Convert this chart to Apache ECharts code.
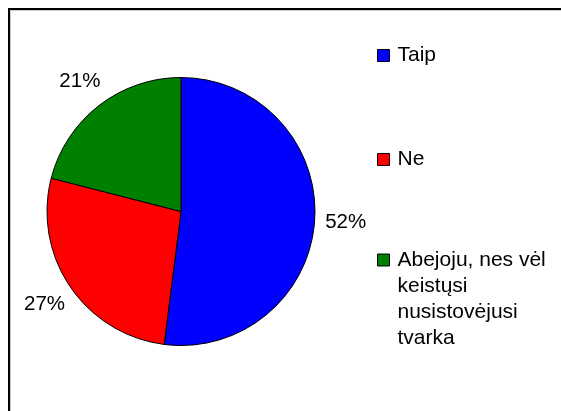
<!DOCTYPE html>
<html>
<head>
<meta charset="utf-8">
<script src="https://cdn.jsdelivr.net/npm/echarts@6/dist/echarts.min.js"></script>
<style>
  html, body { margin: 0; padding: 0; background: #fff; }
  #chart { width: 561px; height: 411px; }
</style>
</head>
<body>
<div id="chart"></div>
<script>
// Survey answers and their shares (percent)
var categories = ['Taip', 'Ne', 'Abejoju, nes vėl\nkeistųsi\nnusistovėjusi\ntvarka'];
var shares = [52, 27, 21];
var colors = ['#0000FF', '#FF0000', '#008000'];

var FONT = '"Liberation Sans", Arial, sans-serif';

var pieData = categories.map(function (name, i) {
  return { name: name, value: shares[i], itemStyle: { color: colors[i] } };
});

// one legend block per answer so each entry sits at its own height;
// multi-line names get empty lines above so the swatch lines up with the first line
function legendBlock(i, top) {
  var lines = categories[i].split('\n').length;
  var pad = new Array(lines).join('\n');
  return {
    data: [categories[i]],
    left: 377,
    top: top,
    padding: 0,
    orient: 'vertical',
    icon: 'rect',
    itemWidth: 12,
    itemHeight: 12,
    selectedMode: false,
    itemStyle: { borderColor: '#000', borderWidth: 1 },
    formatter: function (name) { return pad + name; },
    textStyle: {
      fontFamily: FONT,
      fontSize: 21,
      color: '#000',
      lineHeight: 26,
      padding: [0, 0, 0, 3]
    }
  };
}

var chart = echarts.init(document.getElementById('chart'), null, { renderer: 'canvas' });
chart.setOption({
  animation: false,
  backgroundColor: '#fff',
  graphic: [
    { type: 'rect', silent: true, shape: { x: 9, y: 9, width: 700, height: 600 },
      style: { fill: 'none', stroke: '#000', lineWidth: 2 } },
    { type: 'rect', silent: true, shape: { x: 10.5, y: 10.5, width: 700, height: 600 },
      style: { fill: 'none', stroke: '#c8c8c8', lineWidth: 1 } }
  ],
  legend: [
    legendBlock(0, 42.5),
    legendBlock(1, 146.5),
    legendBlock(2, 169)
  ],
  series: [{
    type: 'pie',
    center: [181, 211.5],
    radius: 134,
    startAngle: 90,
    clockwise: true,
    avoidLabelOverlap: false,
    data: pieData,
    itemStyle: { borderColor: '#000', borderWidth: 1 },
    emphasis: { disabled: true },
    label: {
      show: true,
      position: 'outside',
      formatter: '{d}%',
      fontFamily: FONT,
      fontSize: 20.5,
      color: '#000'
    },
    labelLine: {
      show: true,
      length: 31,
      length2: 0,
      lineStyle: { opacity: 0 }
    },
    // centre each percentage on the radial guide point just outside the pie
    labelLayout: function (p) {
      var pts = p.labelLinePoints;
      if (!pts || !pts[1]) return {};
      return { x: pts[1][0], y: pts[1][1], align: 'center', verticalAlign: 'middle' };
    }
  }]
});
</script>
</body>
</html>
